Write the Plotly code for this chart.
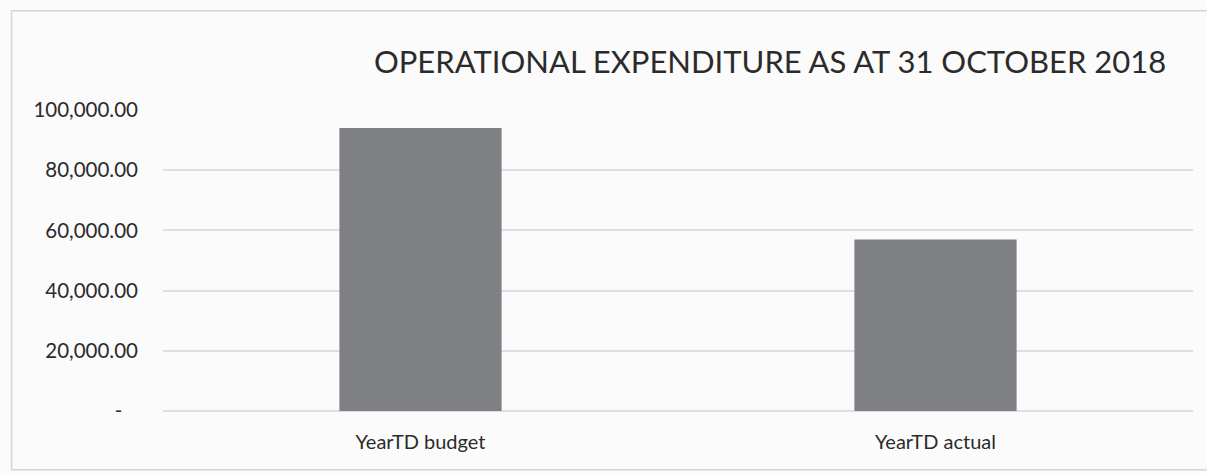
import plotly.graph_objects as go

categories = ["YearTD budget", "YearTD actual"]
values = [94000, 57000]
y_tickvals = [0, 20000, 40000, 60000, 80000, 100000]
y_ticktext = ["-\u00a0\u00a0\u00a0", "20,000.00", "40,000.00", "60,000.00", "80,000.00", "100,000.00"]
title_text = "OPERATIONAL EXPENDITURE AS AT 31 OCTOBER 2018"

FONT = "Lato"

fig = go.Figure()
fig.add_trace(go.Bar(
    x=categories, y=values,
    marker=dict(color="#7e8084", line=dict(width=0)),
    width=0.315,
    hoverinfo="x+y",
))

fig.update_layout(
    width=1207, height=473,
    margin=dict(l=163, r=14, t=110, b=62),
    paper_bgcolor="#fbfbfb",
    plot_bgcolor="#fbfbfb",
    showlegend=False,
    font=dict(family=FONT, color="#2b2b2b"),
    title=dict(text=title_text, x=0.638, xanchor="center", y=0.868, yanchor="middle",
               font=dict(family=FONT, size=31, color="#2b2b2b")),
    xaxis=dict(showgrid=False, showline=False, ticks="", zeroline=False,
               tickfont=dict(family=FONT, size=20, color="#2b2b2b"),
               ticklabelstandoff=17),
    yaxis=dict(range=[0, 100000], tickvals=y_tickvals, ticktext=y_ticktext,
               showgrid=True, gridcolor="#dcdfe5", gridwidth=1.5,
               zeroline=True, zerolinecolor="#dcdfe5", zerolinewidth=1.5,
               showline=False, ticks="",
               tickfont=dict(family=FONT, size=20.5, color="#2b2b2b"),
               ticklabelstandoff=24),
    shapes=[dict(type="rect", xref="paper", yref="paper",
                 x0=-0.147, x1=1.02, y0=-0.195, y1=1.33,
                 line=dict(color="#d6d6d6", width=1.5), fillcolor="rgba(0,0,0,0)",
                 layer="below")],
)

fig.write_html("out.html")
